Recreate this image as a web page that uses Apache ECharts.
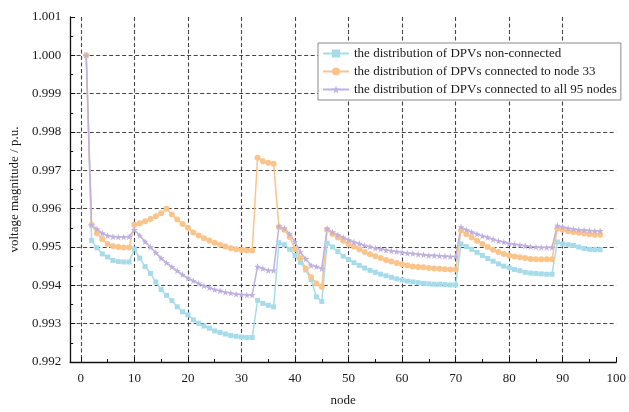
<!DOCTYPE html>
<html>
<head>
<meta charset="utf-8">
<script src="https://cdn.jsdelivr.net/npm/echarts@6/dist/echarts.min.js"></script>
<style>html,body{margin:0;padding:0;background:#fff;}#c{width:629px;height:412px;}</style>
</head>
<body>
<div id="c"></div>
<script>
var seriesNames = [
  'the distribution of DPVs non-connected',
  'the distribution of DPVs connected to node 33',
  'the distribution of DPVs connected to all 95 nodes'
];
var xTicks = [0, 10, 20, 30, 40, 50, 60, 70, 80, 90, 100];
var xMinorTicks = [5, 15, 25, 35, 45, 55, 65, 75, 85, 95];
var nonConnected = [
  1.00000, 0.99517, 0.99498, 0.99482, 0.99474, 0.99465, 0.99462, 0.99461, 0.99461, 0.99495,
  0.99471, 0.99449, 0.99431, 0.99409, 0.99389, 0.99374, 0.99360, 0.99344, 0.99331, 0.99323,
  0.99310, 0.99301, 0.99294, 0.99288, 0.99281, 0.99277, 0.99273, 0.99269, 0.99267, 0.99265,
  0.99264, 0.99264, 0.99361, 0.99353, 0.99348, 0.99344, 0.99511, 0.99506, 0.99494, 0.99478,
  0.99460, 0.99440, 0.99415, 0.99370, 0.99358, 0.99510, 0.99500, 0.99488, 0.99476, 0.99467,
  0.99459, 0.99452, 0.99445, 0.99439, 0.99434, 0.99429, 0.99425, 0.99421, 0.99417, 0.99414,
  0.99411, 0.99409, 0.99407, 0.99405, 0.99404, 0.99403, 0.99403, 0.99402, 0.99401, 0.99401,
  0.99508, 0.99501, 0.99494, 0.99486, 0.99478, 0.99470, 0.99463, 0.99456, 0.99450, 0.99446,
  0.99441, 0.99438, 0.99434, 0.99432, 0.99431, 0.99430, 0.99429, 0.99429, 0.99513, 0.99508,
  0.99506, 0.99504, 0.99500, 0.99496, 0.99494, 0.99493, 0.99493
];
var node33 = [
  1.00000, 0.99558, 0.99536, 0.99521, 0.99508, 0.99502, 0.99500, 0.99499, 0.99499, 0.99558,
  0.99562, 0.99567, 0.99573, 0.99580, 0.99588, 0.99600, 0.99585, 0.99572, 0.99560, 0.99550,
  0.99538, 0.99530, 0.99523, 0.99517, 0.99511, 0.99506, 0.99501, 0.99497, 0.99494, 0.99492,
  0.99491, 0.99491, 0.99733, 0.99724, 0.99720, 0.99717, 0.99552, 0.99545, 0.99526, 0.99495,
  0.99471, 0.99444, 0.99422, 0.99405, 0.99396, 0.99545, 0.99534, 0.99525, 0.99516, 0.99508,
  0.99501, 0.99494, 0.99487, 0.99481, 0.99476, 0.99471, 0.99466, 0.99462, 0.99458, 0.99455,
  0.99452, 0.99449, 0.99448, 0.99447, 0.99445, 0.99444, 0.99443, 0.99442, 0.99441, 0.99441,
  0.99543, 0.99533, 0.99525, 0.99516, 0.99508, 0.99500, 0.99493, 0.99487, 0.99482, 0.99478,
  0.99475, 0.99473, 0.99471, 0.99469, 0.99468, 0.99468, 0.99468, 0.99468, 0.99548, 0.99545,
  0.99541, 0.99539, 0.99537, 0.99535, 0.99533, 0.99532, 0.99532
];
var allNodes = [
  1.00000, 0.99558, 0.99547, 0.99536, 0.99530, 0.99527, 0.99526, 0.99526, 0.99527, 0.99545,
  0.99530, 0.99514, 0.99500, 0.99485, 0.99471, 0.99459, 0.99448, 0.99438, 0.99428, 0.99419,
  0.99412, 0.99405, 0.99399, 0.99394, 0.99389, 0.99386, 0.99382, 0.99380, 0.99377, 0.99376,
  0.99375, 0.99375, 0.99449, 0.99444, 0.99439, 0.99439, 0.99554, 0.99549, 0.99534, 0.99513,
  0.99487, 0.99469, 0.99452, 0.99449, 0.99444, 0.99548, 0.99539, 0.99532, 0.99525, 0.99519,
  0.99513, 0.99509, 0.99504, 0.99501, 0.99497, 0.99495, 0.99492, 0.99490, 0.99488, 0.99486,
  0.99484, 0.99483, 0.99481, 0.99480, 0.99478, 0.99478, 0.99477, 0.99476, 0.99475, 0.99475,
  0.99552, 0.99545, 0.99539, 0.99534, 0.99529, 0.99525, 0.99520, 0.99516, 0.99513, 0.99509,
  0.99507, 0.99505, 0.99503, 0.99501, 0.99500, 0.99499, 0.99499, 0.99499, 0.99556, 0.99552,
  0.99549, 0.99547, 0.99545, 0.99544, 0.99543, 0.99542, 0.99542
];

function pairs(arr) { return arr.map(function (v, i) { return [i + 1, v]; }); }

var font = 'Liberation Serif';
var chart = echarts.init(document.getElementById('c'));
var starPath = 'path://M0,-1L0.225,-0.31L0.95,-0.31L0.36,0.12L0.59,0.81L0,0.38L-0.59,0.81L-0.36,0.12L-0.95,-0.31L-0.225,-0.31Z';
function mkSeries(name, arr, color, symbol, size) {
  return {
    name: name, type: 'line', data: pairs(arr),
    symbol: symbol, symbolSize: size, showSymbol: true,
    lineStyle: { color: color, width: 1.5 },
    itemStyle: { color: color },
    emphasis: { disabled: true },
    animation: false, z: 3
  };
}
var gridLine = { color: '#444', type: [4, 2.5], width: 1.1 };
chart.setOption({
  animation: false,
  backgroundColor: '#fff',
  textStyle: { fontFamily: font },
  grid: { left: 68, right: 7, top: 17, bottom: 48, containLabel: false },
  legend: {
    left: 318, top: 43, orient: 'vertical',
    padding: [3, 4, 3, 4], itemGap: 3, itemWidth: 26, itemHeight: 10,
    borderColor: '#8a8a8a', borderWidth: 1, backgroundColor: '#fff',
    textStyle: { fontFamily: font, fontSize: 13, color: '#1a1a1a', lineHeight: 15 },
    data: seriesNames
  },
  xAxis: [{
    type: 'value', min: -2, max: 100,
    name: 'node', nameLocation: 'middle', nameGap: 32,
    nameTextStyle: { fontFamily: font, fontSize: 13, color: '#1a1a1a' },
    axisLine: { show: true, onZero: false, lineStyle: { color: '#111', width: 1.3 } },
    axisTick: { show: true, inside: true, length: 5, customValues: xTicks, lineStyle: { color: '#111' } },
    axisLabel: { customValues: xTicks, fontFamily: font, fontSize: 13, color: '#1a1a1a', margin: 10 },
    splitLine: { show: true, showMaxLine: false, lineStyle: gridLine }
  }, {
    type: 'value', min: -2, max: 100, position: 'bottom',
    axisLine: { show: false },
    axisTick: { show: true, inside: true, length: 3, customValues: xMinorTicks, lineStyle: { color: '#111' } },
    axisLabel: { show: false, customValues: xMinorTicks },
    splitLine: { show: false }
  }],
  yAxis: {
    type: 'value', min: 0.992, max: 1.001, interval: 0.001,
    name: 'voltage magnitude / p.u.', nameLocation: 'middle', nameGap: 48,
    nameTextStyle: { fontFamily: font, fontSize: 13, color: '#1a1a1a' },
    axisLine: { show: true, onZero: false, lineStyle: { color: '#111', width: 1.3 } },
    axisTick: { show: true, inside: true, length: 5, lineStyle: { color: '#111' } },
    minorTick: { show: true, splitNumber: 2, length: 3, lineStyle: { color: '#111' } },
    axisLabel: {
      fontFamily: font, fontSize: 13, color: '#1a1a1a', margin: 9,
      formatter: function (v) { return v.toFixed(3); }
    },
    splitLine: { show: true, showMaxLine: false, lineStyle: gridLine }
  },
  series: [
    mkSeries(seriesNames[0], nonConnected, '#a6dcea', 'rect', 5),
    mkSeries(seriesNames[1], node33, '#fbc48a', 'circle', 6),
    mkSeries(seriesNames[2], allNodes, '#bfb0e0', starPath, 7)
  ]
});
</script>
</body>
</html>
